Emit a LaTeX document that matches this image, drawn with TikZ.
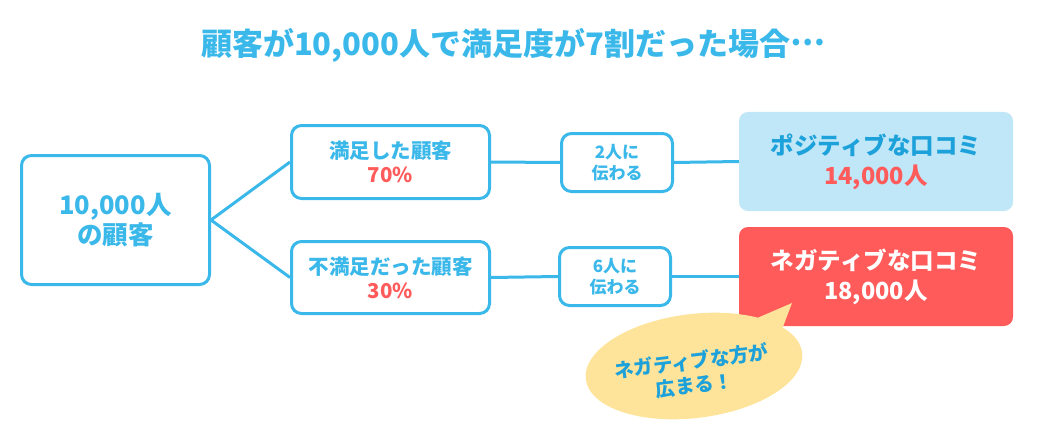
\documentclass[tikz,border=0pt]{standalone}
\usepackage{fontspec}
\setmainfont{Noto Sans CJK JP}
\definecolor{skyline}{HTML}{3BB8EA}
\definecolor{deepsky}{HTML}{1DA1DA}
\definecolor{coral}{HTML}{FF5B5B}
\definecolor{palesky}{HTML}{BFE7F8}
\definecolor{cream}{HTML}{FDE49A}
\tikzset{
  outline/.style={draw=skyline, line width=3pt, rounded corners=10pt, fill=white, align=center, text=skyline, inner sep=0pt},
  link/.style={skyline, line width=3pt},
  result/.style={rounded corners=9pt, minimum width=274pt, minimum height=99pt, align=center, inner sep=0pt, font=\bfseries\fontsize{23.5}{30}\selectfont}
}
\begin{document}
\begin{tikzpicture}[x=1pt, y=-1pt]
    \useasboundingbox (0,0) rectangle (1037,444);
    \node (title) at (513,45) [text=skyline, font=\bfseries\fontsize{31}{36}\selectfont] {顧客が10,000人で満足度が7割だった場合\raisebox{0.32em}{…}};
    \node (all) at (115.5,220) [outline, minimum width=188pt, minimum height=129pt, font=\bfseries\fontsize{25.5}{30}\selectfont] {10,000人\\の顧客};
    \node (sat) at (390.5,162) [outline, minimum width=198pt, minimum height=73pt, font=\bfseries\fontsize{20.5}{24}\selectfont] {満足した顧客\\\textcolor{coral}{70\%}};
    \node (unsat) at (390.5,277.5) [outline, minimum width=198pt, minimum height=72pt, font=\bfseries\fontsize{20.5}{24}\selectfont] {不満足だった顧客\\\textcolor{coral}{30\%}};
    \node (two) at (617,162.5) [outline, minimum width=111pt, minimum height=58pt, font=\bfseries\fontsize{17}{21}\selectfont] {2人に\\伝わる};
    \node (six) at (615,276.5) [outline, minimum width=111pt, minimum height=58pt, font=\bfseries\fontsize{17}{21}\selectfont] {6人に\\伝わる};
    \node (good) at (876,161.5) [result, fill=palesky, text=deepsky] {ポジティブな口コミ\\\textcolor{coral}{14,000人}};
    \node (bad) at (876,276.5) [result, fill=coral, text=white] {ネガティブな口コミ\\18,000人};
    \draw[link] (all.east) -- (sat.west);
    \draw[link] (all.east) -- (unsat.west);
    \draw[link] (sat.east) -- (two.west);
    \draw[link] (two.east) -- (good.west);
    \draw[link] (unsat.east) -- (six.west);
    \draw[link] (six.east) -- (bad.west);
    % speech bubble
    \fill[cream, rotate around={7:(694,366)}] (694,366) ellipse [x radius=109, y radius=52];
    \fill[cream] (748,322) -- (792,303) -- (781,332) -- cycle;
    \node (spread) at (693,373) [rotate=7, align=center, text=deepsky, font=\bfseries\fontsize{19.5}{24}\selectfont] {ネガティブな方が\\広まる！};
\end{tikzpicture}
\end{document}
